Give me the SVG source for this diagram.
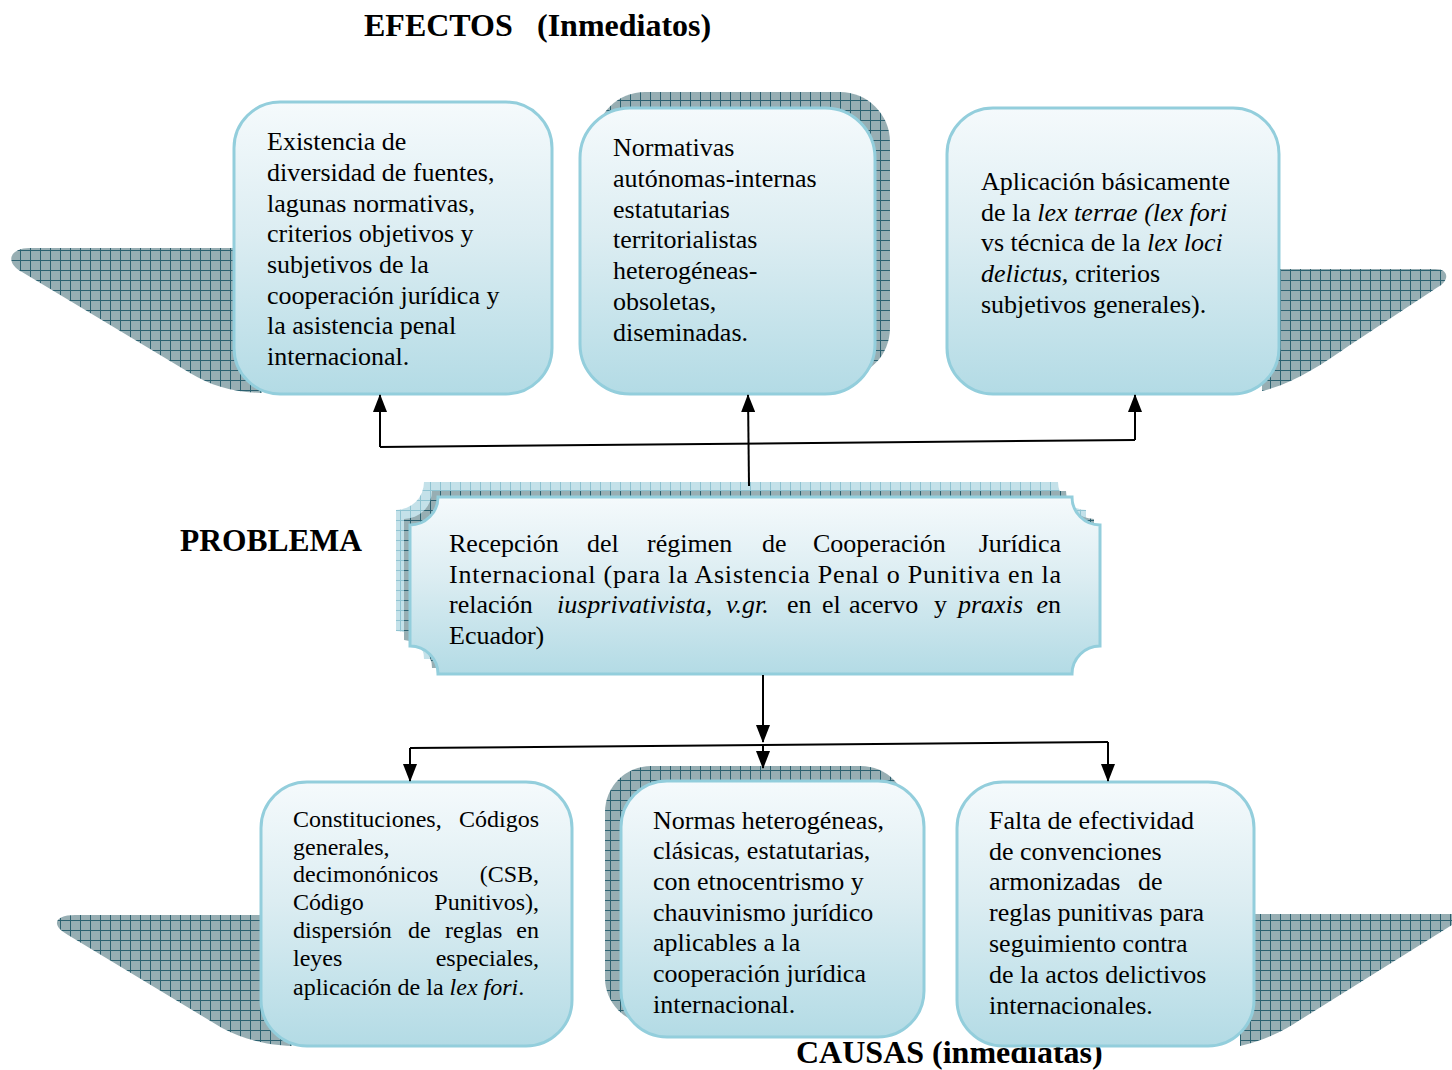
<svg xmlns="http://www.w3.org/2000/svg" width="1452" height="1070" viewBox="0 0 1452 1070">
<defs>
  <pattern id="hatch" width="10" height="10" patternUnits="userSpaceOnUse">
    <rect width="10" height="10" fill="#97aeb3"/>
    <path d="M0,0.5 H10 M0.5,0 V10" stroke="#2c6170" stroke-width="1"/>
  </pattern>
  <pattern id="hatchLight" width="10" height="10" patternUnits="userSpaceOnUse">
    <rect width="10" height="10" fill="#c4e1e9"/>
    <path d="M0,0.5 H10 M0.5,0 V10" stroke="#8fc3d1" stroke-width="1"/>
  </pattern>
  <linearGradient id="boxGrad" x1="0" y1="0" x2="0" y2="1">
    <stop offset="0" stop-color="#f5fafc"/>
    <stop offset="0.45" stop-color="#dcedf2"/>
    <stop offset="1" stop-color="#b3dbe5"/>
  </linearGradient>
  <marker id="arrHead" markerWidth="18" markerHeight="14" refX="17" refY="7" orient="auto" markerUnits="userSpaceOnUse" viewBox="0 0 18 14">
    <path d="M0,0 L18,7 L0,14 Z" fill="#000"/>
  </marker>
</defs>
<style>
  .box { fill: url(#boxGrad); stroke: #93cedc; stroke-width: 3; }
  .hatch { fill: url(#hatch); }
  .hatchL { fill: url(#hatchLight); }
  .t { font-family: "Liberation Serif", "Times New Roman", serif; font-size: 26px; fill: #000; }
  .t4 { font-family: "Liberation Serif", "Times New Roman", serif; font-size: 24px; fill: #000; }
  .title { font-family: "Liberation Serif", "Times New Roman", serif; font-size: 32px; font-weight: bold; fill: #000; }
  .i { font-style: italic; }
  .conn { fill: none; stroke: #000; stroke-width: 2; }
</style>

<rect width="1452" height="1070" fill="#fff"/>

<!-- titles -->
<text class="title" x="364" y="36">EFECTOS<tspan x="537">(Inmediatos)</tspan></text>
<text class="title" x="180" y="551" textLength="182" lengthAdjust="spacingAndGlyphs">PROBLEMA</text>
<text class="title" x="796" y="1063">CAUSAS (inmediatas)</text>

<!-- Effect 1 -->
<g id="efecto1">
  <path class="hatch" d="M30,248 H262 V393 C232,392 212,386 190,373 L22,272 C4,262 10,248 30,248 Z"/>
  <rect class="box" x="234" y="102" width="318" height="292" rx="46" ry="46"/>
  <text class="t" x="267" y="150">Existencia de</text>
  <text class="t" x="267" y="181">diversidad de fuentes,</text>
  <text class="t" x="267" y="212">lagunas normativas,</text>
  <text class="t" x="267" y="242">criterios objetivos y</text>
  <text class="t" x="267" y="273">subjetivos de la</text>
  <text class="t" x="267" y="304">cooperación jurídica y</text>
  <text class="t" x="267" y="334">la asistencia penal</text>
  <text class="t" x="267" y="365">internacional.</text>
</g>

<!-- Effect 2 -->
<g id="efecto2">
  <rect class="hatch" x="595" y="92" width="295" height="286" rx="50" ry="50"/>
  <rect class="box" x="580" y="108" width="295" height="286" rx="50" ry="50"/>
  <text class="t" x="613" y="156">Normativas</text>
  <text class="t" x="613" y="187">autónomas-internas</text>
  <text class="t" x="613" y="218">estatutarias</text>
  <text class="t" x="613" y="248">territorialistas</text>
  <text class="t" x="613" y="279">heterogéneas-</text>
  <text class="t" x="613" y="310">obsoletas,</text>
  <text class="t" x="613" y="341">diseminadas.</text>
</g>

<!-- Effect 3 -->
<g id="efecto3">
  <path class="hatch" d="M1262,269 H1435 C1450,269 1449,281 1438,287 L1350,345 C1320,366 1292,384 1262,391 Z"/>
  <rect class="box" x="947" y="108" width="332" height="286" rx="46" ry="46"/>
  <text class="t" x="981" y="190">Aplicación básicamente</text>
  <text class="t" x="981" y="221">de la <tspan class="i">lex terrae (lex fori</tspan></text>
  <text class="t" x="981" y="251">vs técnica de la <tspan class="i">lex loci</tspan></text>
  <text class="t" x="981" y="282"><tspan class="i">delictus,</tspan> criterios</text>
  <text class="t" x="981" y="313">subjetivos generales).</text>
</g>

<!-- Problem -->
<g id="problema">
  <path class="hatchL" d="M424,482 H1058 A28 28 0 0 0 1086,510 V631 A28 28 0 0 0 1058,659 H424 A28 28 0 0 0 396,631 V510 A28 28 0 0 0 424,482 Z"/>
  <path class="hatch" d="M432,491 H1066 A28 28 0 0 0 1094,519 V640 A28 28 0 0 0 1066,668 H432 A28 28 0 0 0 404,640 V519 A28 28 0 0 0 432,491 Z"/>
  <path class="box" d="M438,497 H1072 A28 28 0 0 0 1100,525 V646 A28 28 0 0 0 1072,674 H438 A28 28 0 0 0 410,646 V525 A28 28 0 0 0 438,497 Z"/>
  <text class="t" y="552"><tspan x="449">Recepción</tspan><tspan x="587">del</tspan><tspan x="647">régimen</tspan><tspan x="762">de</tspan><tspan x="813">Cooperación</tspan></text>
  <text class="t" x="1061" y="552" text-anchor="end">Jurídica</text>
  <text class="t" x="449" y="583" textLength="612" lengthAdjust="spacing">Internacional (para la Asistencia Penal o Punitiva en la</text>
  <text class="t" y="613"><tspan x="449">relación</tspan><tspan x="557" class="i">iusprivativista,</tspan><tspan x="726" class="i">v.gr.</tspan><tspan x="787">en</tspan><tspan x="822">el</tspan><tspan x="849">acervo</tspan><tspan x="934">y</tspan><tspan x="958" class="i">praxis</tspan></text>
  <text class="t" x="1061" y="613" text-anchor="end"><tspan class="i">e</tspan>n</text>
  <text class="t" x="449" y="644">Ecuador)</text>
</g>

<!-- Cause 1 -->
<g id="causa1">
  <path class="hatch" d="M75,915 H292 V1046 C262,1045 242,1038 222,1028 L68,935 C50,925 55,915 75,915 Z"/>
  <rect class="box" x="261" y="782" width="311" height="264" rx="46" ry="46"/>
  <text class="t4" x="293" y="827">Constituciones,</text>
  <text class="t4" x="539" y="827" text-anchor="end">Códigos</text>
  <text class="t4" x="293" y="855">generales,</text>
  <text class="t4" x="293" y="882">decimonónicos</text>
  <text class="t4" x="539" y="882" text-anchor="end">(CSB,</text>
  <text class="t4" x="293" y="910">Código</text>
  <text class="t4" x="539" y="910" text-anchor="end">Punitivos),</text>
  <text class="t4" y="938"><tspan x="293">dispersión</tspan><tspan x="408">de</tspan><tspan x="445">reglas</tspan></text>
  <text class="t4" x="539" y="938" text-anchor="end">en</text>
  <text class="t4" x="293" y="966">leyes</text>
  <text class="t4" x="539" y="966" text-anchor="end">especiales,</text>
  <text class="t4" x="293" y="995">aplicación de la <tspan class="i">lex fori</tspan>.</text>
</g>

<!-- Cause 2 -->
<g id="causa2">
  <rect class="hatch" x="605" y="766" width="302" height="258" rx="46" ry="46"/>
  <rect class="box" x="621" y="781" width="303" height="256" rx="46" ry="46"/>
  <text class="t" x="653" y="829">Normas heterogéneas,</text>
  <text class="t" x="653" y="859">clásicas, estatutarias,</text>
  <text class="t" x="653" y="890">con etnocentrismo y</text>
  <text class="t" x="653" y="921">chauvinismo jurídico</text>
  <text class="t" x="653" y="951">aplicables a la</text>
  <text class="t" x="653" y="982">cooperación jurídica</text>
  <text class="t" x="653" y="1013">internacional.</text>
</g>

<!-- Cause 3 -->
<g id="causa3">
  <path class="hatch" d="M1240,914 H1460 V920 L1300,1020 C1285,1030 1266,1040 1240,1046 Z"/>
  <rect class="box" x="957" y="782" width="297" height="264" rx="46" ry="46"/>
  <text class="t" x="989" y="829">Falta de efectividad</text>
  <text class="t" x="989" y="860">de convenciones</text>
  <text class="t" y="890"><tspan x="989">armonizadas</tspan><tspan x="1138">de</tspan></text>
  <text class="t" x="989" y="921">reglas punitivas para</text>
  <text class="t" x="989" y="952">seguimiento contra</text>
  <text class="t" x="989" y="983">de la actos delictivos</text>
  <text class="t" x="989" y="1014">internacionales.</text>
</g>

<!-- connectors -->
<g id="connectors">
  <path class="conn" d="M749,486 L748,395" marker-end="url(#arrHead)"/>
  <path class="conn" d="M380,447 L1135,440"/>
  <path class="conn" d="M380,447 V395" marker-end="url(#arrHead)"/>
  <path class="conn" d="M1135,440 V395" marker-end="url(#arrHead)"/>
  <path class="conn" d="M763,675 V742" marker-end="url(#arrHead)"/>
  <path class="conn" d="M410,748 L1108,742"/>
  <path class="conn" d="M410,748 V781" marker-end="url(#arrHead)"/>
  <path class="conn" d="M763,745 V768" marker-end="url(#arrHead)"/>
  <path class="conn" d="M1108,742 V781" marker-end="url(#arrHead)"/>
</g>
</svg>
